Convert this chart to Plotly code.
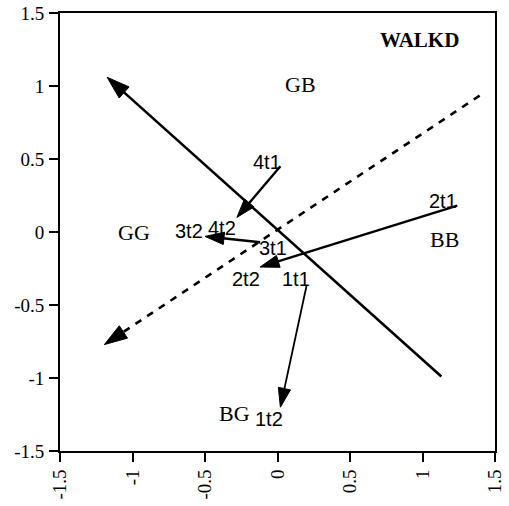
import plotly.graph_objects as go

# Discriminant-space trajectories: each subject moves from time 1 (t1) to time 2 (t2)
subjects = ["1", "2", "3", "4"]
t1_x = [0.20, 1.24, -0.12, 0.02]
t1_y = [-0.37, 0.18, -0.07, 0.45]
t2_x = [0.02, -0.12, -0.50, -0.28]
t2_y = [-1.20, -0.24, -0.03, 0.10]

# Label anchor points for the trajectory ends
t1_label_x = [0.13, 1.14, -0.03, -0.07]
t1_label_y = [-0.32, 0.21, -0.11, 0.48]
t2_label_x = [-0.06, -0.22, -0.61, -0.38]
t2_label_y = [-1.28, -0.32, 0.01, 0.025]

# Reference axes (start -> arrow tip)
solid_axis_x = [1.13, -1.175]
solid_axis_y = [-0.99, 1.06]
dashed_axis_x = [1.394, -1.194]
dashed_axis_y = [0.934, -0.771]

# Quadrant labels
group_labels = ["GB", "GG", "BB", "BG"]
group_x = [0.16, -0.99, 1.15, -0.30]
group_y = [1.01, 0.0, -0.05, -1.24]

title_text = "WALKD"
tick_vals = [-1.5, -1, -0.5, 0, 0.5, 1, 1.5]
tick_text = ["-1.5", "-1", "-0.5", "0", "0.5", "1", "1.5"]

SERIF = "Liberation Serif, Times New Roman, serif"
SANS = "Liberation Sans, Arial, sans-serif"


def arrow_trace(xs, ys, width, head, dash="solid"):
    return go.Scatter(
        x=xs, y=ys, mode="lines+markers",
        line=dict(color="black", width=width, dash=dash),
        marker=dict(symbol="arrow", angleref="previous", size=[0, head],
                    color="black", opacity=1, line=dict(width=1, color="black")),
        opacity=1, hoverinfo="skip", showlegend=False,
    )


fig = go.Figure()
fig.add_trace(arrow_trace(solid_axis_x, solid_axis_y, 2.6, 24))
fig.add_trace(arrow_trace(dashed_axis_x, dashed_axis_y, 2.6, 24, dash="7px,7px"))
for i in range(len(subjects)):
    w = 1.8 if subjects[i] == "1" else 2.4
    fig.add_trace(arrow_trace([t1_x[i], t2_x[i]], [t1_y[i], t2_y[i]], w, 20))

annotations = []
for i, s in enumerate(subjects):
    annotations.append(dict(x=t1_label_x[i], y=t1_label_y[i], text=s + "t1",
                            showarrow=False, font=dict(family=SANS, size=20, color="black")))
    annotations.append(dict(x=t2_label_x[i], y=t2_label_y[i], text=s + "t2",
                            showarrow=False, font=dict(family=SANS, size=20, color="black")))
for g, gx, gy in zip(group_labels, group_x, group_y):
    annotations.append(dict(x=gx, y=gy, text=g, showarrow=False,
                            font=dict(family=SERIF, size=22, color="black")))
annotations.append(dict(x=0.98, y=1.316, text="<b>" + title_text + "</b>", showarrow=False,
                        font=dict(family=SERIF, size=21, color="black")))

axis_common = dict(
    range=[-1.5, 1.5], tickvals=tick_vals, ticktext=tick_text,
    showgrid=False, zeroline=False, showline=True, mirror=True,
    linecolor="black", linewidth=1.8, ticks="outside", ticklen=9,
    tickwidth=2, tickcolor="black", automargin=False,
    tickfont=dict(family=SERIF, size=19, color="black"),
)

fig.update_layout(
    width=509, height=506,
    margin=dict(l=60, r=14, t=13, b=55),
    paper_bgcolor="white", plot_bgcolor="white",
    xaxis=dict(**axis_common, tickangle=-90),
    yaxis=dict(**axis_common, ticklabelstandoff=1),
    annotations=annotations,
)

fig.write_html("out.html")
